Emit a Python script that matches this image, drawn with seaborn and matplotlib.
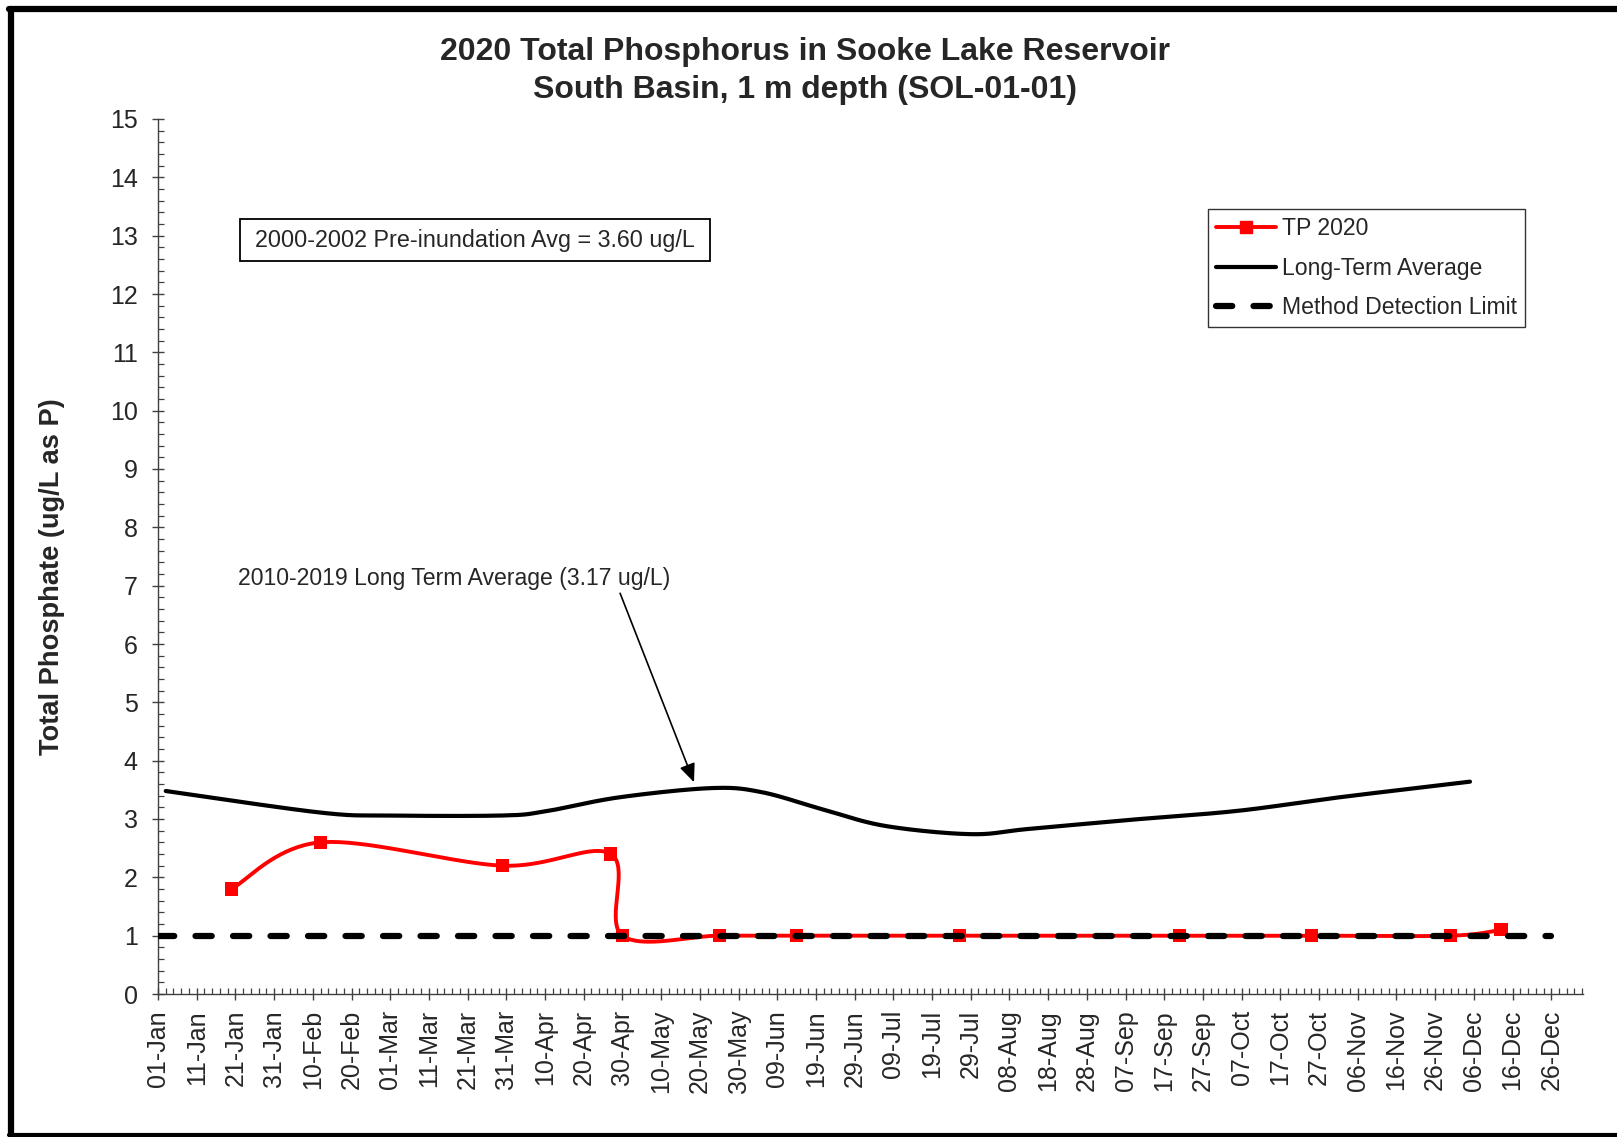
import numpy as np
import pandas as pd
import matplotlib
matplotlib.use("Agg")
import matplotlib.pyplot as plt
import matplotlib.dates as mdates
from matplotlib.lines import Line2D
from matplotlib.patches import Rectangle
from matplotlib.ticker import MultipleLocator, FixedLocator
import seaborn as sns

# TP 2020 samples (ug/L)
tp_dates = ["2020-01-20", "2020-02-12", "2020-03-30", "2020-04-27", "2020-04-30", "2020-05-25",
            "2020-06-14", "2020-07-26", "2020-09-21", "2020-10-25", "2020-11-30", "2020-12-13"]
tp_values = [1.8, 2.6, 2.2, 2.4, 1.0, 1.0, 1.0, 1.0, 1.0, 1.0, 1.0, 1.1]

# 2010-2019 long-term average curve
lta_dates = ["2020-01-03", "2020-02-12", "2020-03-01", "2020-03-30", "2020-04-10", "2020-04-29",
             "2020-05-23", "2020-06-05", "2020-06-21", "2020-07-07", "2020-07-29", "2020-08-13",
             "2020-09-09", "2020-10-06", "2020-11-01", "2020-12-05"]
lta_values = [3.48, 3.11, 3.06, 3.06, 3.13, 3.37, 3.53, 3.46, 3.16, 2.88, 2.74, 2.83,
              2.99, 3.14, 3.37, 3.64]

# method detection limit
mdl_dates = ["2020-01-01", "2020-12-26"]
mdl_values = [1.0, 1.0]

series_labels = ["TP 2020", "Long-Term Average", "Method Detection Limit"]
title_lines = ["2020 Total Phosphorus in Sooke Lake Reservoir", "South Basin, 1 m depth (SOL-01-01)"]
y_label = "Total Phosphate (ug/L as P)"
box_text = "2000-2002 Pre-inundation Avg = 3.60 ug/L"
arrow_text = "2010-2019 Long Term Average (3.17 ug/L)"


def to_num(dates):
    return mdates.date2num(pd.to_datetime(dates))


def excel_smooth(x, y, sx=3.87, sy=58.33, n=40):
    # bezier smoothing like excel's "smoothed line", done in pixel space
    pts = np.column_stack([np.asarray(x, float) * sx, np.asarray(y, float) * sy])
    ext = np.vstack([pts[0], pts, pts[-1]])
    t = np.linspace(0, 1, n)[1:, None]
    out = [pts[:1]]
    for i in range(len(pts) - 1):
        p0, p1, p2, p3 = ext[i], ext[i + 1], ext[i + 2], ext[i + 3]
        c1 = p1 + (p2 - p0) / 6
        c2 = p2 - (p3 - p1) / 6
        out.append((1 - t) ** 3 * p1 + 3 * (1 - t) ** 2 * t * c1 + 3 * (1 - t) * t ** 2 * c2 + t ** 3 * p2)
    curve = np.vstack(out)
    return curve[:, 0] / sx, curve[:, 1] / sy


sns.set_style("ticks")
plt.rcParams["font.family"] = ["Liberation Sans", "DejaVu Sans"]

W, H = 1617, 1137
fig = plt.figure(figsize=(W / 100, H / 100), dpi=100)
ax = fig.add_axes([158 / W, 1 - 994 / H, (1583 - 158) / W, (994 - 119) / H])

start = to_num(["2020-01-01"])[0]
tp_x = to_num(tp_dates)
lta_x = to_num(lta_dates)
mdl_x = to_num(mdl_dates)

sx, sy = excel_smooth(tp_x, tp_values)
sns.lineplot(x=sx, y=sy, sort=False, estimator=None, color="#FF0000", linewidth=2.8, ax=ax, zorder=2)
sns.scatterplot(x=tp_x, y=tp_values, marker="s", s=90, color="#FF0000", edgecolor="none", ax=ax, zorder=2.5)

lx, ly = excel_smooth(lta_x, lta_values)
sns.lineplot(x=lx, y=ly, sort=False, estimator=None, color="black", linewidth=3, ax=ax, zorder=3)

sns.lineplot(x=mdl_x, y=mdl_values, sort=False, estimator=None, color="black", linewidth=4.5,
             ax=ax, zorder=4)
ax.lines[-1].set_dashes((2.6, 3.4))
ax.lines[-1].set_dash_capstyle("round")

ax.set_xlim(start, start + 368.2)
ax.set_ylim(0, 15)
ax.xaxis.set_major_locator(FixedLocator(start + np.arange(0, 361, 10)))
ax.xaxis.set_minor_locator(MultipleLocator(2))
ax.xaxis.set_major_formatter(mdates.DateFormatter("%d-%b"))
ax.yaxis.set_major_locator(MultipleLocator(1))
ax.yaxis.set_minor_locator(MultipleLocator(0.2))

for side in ["top", "right"]:
    ax.spines[side].set_visible(False)
for side in ["left", "bottom"]:
    ax.spines[side].set_color("#404040")
    ax.spines[side].set_linewidth(1.0)

ax.tick_params(axis="both", which="major", direction="inout", length=9, width=1.0, color="#404040",
               labelsize=18)
ax.tick_params(axis="x", which="major", pad=7, labelrotation=90)
ax.tick_params(axis="y", which="major", pad=10)
ax.tick_params(axis="both", which="minor", direction="in", length=4.5, width=0.9, color="#404040")
ax.set_xlabel("")
ax.set_ylabel("")

# titles and axis label
fig.text(805 / W, 1 - 52 / H, title_lines[0], ha="center", va="center", fontsize=23.0, fontweight="bold")
fig.text(805 / W, 1 - 90 / H, title_lines[1], ha="center", va="center", fontsize=23.0, fontweight="bold")
fig.text(52 / W, 1 - 577 / H, y_label, rotation=90, ha="center", va="center", fontsize=19.6, fontweight="bold")

# pre-inundation box
fig.add_artist(Rectangle((240 / W, 1 - 261 / H), 470 / W, 42 / H, transform=fig.transFigure,
                         facecolor="white", edgecolor="black", linewidth=1.3))
fig.text(475 / W, 1 - 241 / H, box_text, ha="center", va="center", fontsize=16.8)

# long-term average annotation
ax.text(start + 20.7, 7.12, arrow_text, ha="left", va="center", fontsize=16.6)
ax.annotate("", xy=(start + 138.5, 3.63), xytext=(start + 119.4, 6.87),
            arrowprops=dict(arrowstyle="-|>,head_length=0.7,head_width=0.3", color="black", lw=1.2,
                            shrinkA=0, shrinkB=0, mutation_scale=16))

handles = [
    Line2D([], [], color="#FF0000", linewidth=2.8, marker="s", markersize=9),
    Line2D([], [], color="black", linewidth=3),
    Line2D([], [], color="black", linewidth=4.5, dashes=(2.6, 3.4), dash_capstyle="round"),
]
leg = fig.legend(handles, series_labels, loc="upper left", bbox_to_anchor=(1208 / W, 1 - 209 / H),
                 bbox_transform=fig.transFigure, borderaxespad=0, fontsize=16.6, frameon=True,
                 fancybox=False, edgecolor="black", handlelength=2.6, handletextpad=0.25,
                 labelspacing=0.72, borderpad=0.35)
leg.get_frame().set_linewidth(1.0)

# outer frame of the picture
fig.add_artist(Line2D([11 / W, 11 / W], [1 - 9 / H, 1 - 1135 / H], color="black", linewidth=4.5,
                      transform=fig.transFigure))
fig.add_artist(Line2D([9 / W, 1.0], [1 - 9 / H, 1 - 9 / H], color="black", linewidth=4.5,
                      transform=fig.transFigure))
fig.add_artist(Line2D([9 / W, 1.0], [1 - 1135 / H, 1 - 1135 / H], color="black", linewidth=3,
                      transform=fig.transFigure))

fig.savefig("out.png", dpi=100)
